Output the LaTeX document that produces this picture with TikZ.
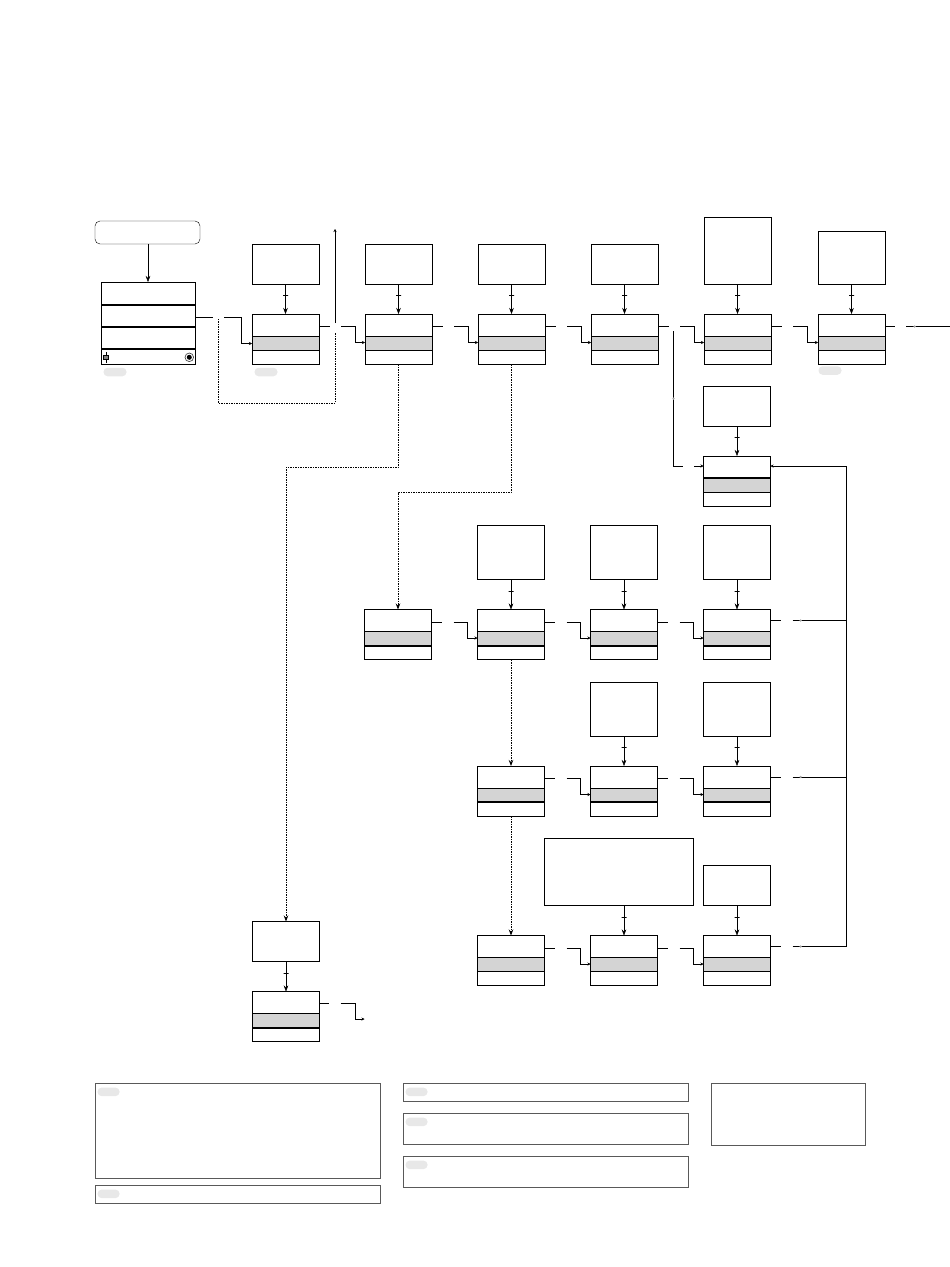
\documentclass[tikz,border=0pt]{standalone}
\usetikzlibrary{arrows.meta,calc,positioning}
\definecolor{band}{gray}{0.83}
\definecolor{tagfill}{gray}{0.91}
\definecolor{frame}{gray}{0.35}
\tikzset{
    line width=1pt,
    box/.style={draw, fill=white, minimum width=67pt, inner sep=0pt, outer sep=0pt},
    stackbox/.style 2 args={box, minimum height=50pt, path picture={
        \fill[band] ([yshift=-22pt]path picture bounding box.north west) rectangle ([yshift=14pt]path picture bounding box.south east);
        \draw[line width=#1] ([yshift=-22pt]path picture bounding box.north west) -- ([yshift=-22pt]path picture bounding box.north east);
        \draw[line width=#2] ([yshift=14pt]path picture bounding box.south west) -- ([yshift=14pt]path picture bounding box.south east);}},
    stack/.style={stackbox={1pt}{1pt}},
    stack low/.style={stackbox={1pt}{2pt}},
    stack high/.style={stackbox={2pt}{1pt}},
    feed/.style={-{Stealth[length=6pt,width=4.5pt]}},
    link/.style={-{Stealth[length=3pt,width=3pt]}},
    trail/.style={line width=.8pt, dash pattern=on 1.5pt off 1pt},
    notch/.style={draw, line width=.8pt, minimum width=5pt, minimum height=0pt, inner sep=0pt},
    nub/.style={circle, fill=gray!70, inner sep=0pt, minimum size=2.5pt},
    tag/.style={fill=tagfill, rounded corners=4pt, minimum width=23pt, minimum height=8.5pt, inner sep=0pt},
    legend/.style={draw=frame, line width=.9pt, inner sep=0pt}
}

\begin{document}
\begin{tikzpicture}[x=1pt, y=-1pt]
    \useasboundingbox (0,0) rectangle (950,1267);

    % start and menu
    \node[box, rounded corners=5pt, minimum width=105pt, minimum height=23pt] (start) at (147.5,232.5) {};
    \node[box, minimum width=94pt, minimum height=82pt] (menu) at (148,323) {};
    \foreach \d in {23,44.7,67.3}
        \draw[line width=2pt] ($(menu.north west)+(0,\d)$) -- ($(menu.north east)+(0,\d)$);
    \draw ($(menu.south west)+(5,-12)$) -- ($(menu.south west)+(5,-1)$);
    \filldraw[line width=.6pt, fill=gray] ($(menu.south west)+(2.5,-9)$) rectangle ($(menu.south west)+(7.5,-5)$);
    \draw[line width=.7pt, gray!60!black] ($(menu.south east)+(-5.7,-6.7)$) circle (4.3pt);
    \fill ($(menu.south east)+(-5.7,-6.7)$) circle (2.5pt);
    \draw[feed] (start.south -| menu.north) -- (menu.north);

    % first row
    \node[stack] (A) at (285.5,339) {};
    \node[stack] (B) [right = 46pt of A] {};
    \node[stack] (C) [right = 46pt of B] {};
    \node[stack] (D) [right = 46pt of C] {};
    \node[stack] (E) [right = 46pt of D] {};
    \node[stack] (G) [right = 47pt of E] {};
    \node[stack high] (F) at (737,481) {};

    % lower rows
    \node[stack low] (H) at (398,634.5) {};
    \node[stack low] (I) [right = 46pt of H] {};
    \node[stack low] (J) [right = 46pt of I] {};
    \node[stack low] (K) [right = 46pt of J] {};
    \node[stack low] (L) at (511,791) {};
    \node[stack low] (M) [right = 46pt of L] {};
    \node[stack low] (N) [right = 46pt of M] {};
    \node[stack] (O) at (511,960.5) {};
    \node[stack] (P) [right = 46pt of O] {};
    \node[stack] (Q) [right = 46pt of P] {};
    \node[stack low] (R) at (286,1016.5) {};

    % boxes feeding each row box
    \node[box, minimum height=40pt] (Atop) [above = 30pt of A] {};
    \node[box, minimum height=40pt] (Btop) [above = 30pt of B] {};
    \node[box, minimum height=40pt] (Ctop) [above = 30pt of C] {};
    \node[box, minimum height=40pt] (Dtop) [above = 30pt of D] {};
    \node[box, minimum height=67pt] (Etop) [above = 30pt of E] {};
    \node[box, minimum height=53pt] (Gtop) [above = 30pt of G] {};
    \node[box, minimum height=40pt] (Ftop) [above = 30pt of F] {};
    \node[box, minimum height=54pt] (Itop) [above = 30pt of I] {};
    \node[box, minimum height=54pt] (Jtop) [above = 30pt of J] {};
    \node[box, minimum height=54pt] (Ktop) [above = 30pt of K] {};
    \node[box, minimum height=54pt] (Mtop) [above = 30pt of M] {};
    \node[box, minimum height=54pt] (Ntop) [above = 30pt of N] {};
    \node[box, minimum width=149pt, minimum height=67pt] (Ptop) [above = 30pt of P, xshift=-5pt] {};
    \node[box, minimum height=40pt] (Qtop) [above = 30pt of Q] {};
    \node[box, minimum height=40pt] (Rtop) [above = 30pt of R] {};

    \foreach \t/\q in {Atop/A,Btop/B,Ctop/C,Dtop/D,Etop/E,Gtop/G,Ftop/F,Itop/I,Jtop/J,Ktop/K,Mtop/M,Ntop/N,Ptop/P,Qtop/Q,Rtop/R}
        \draw[feed] (\t.south -| \q.north) -- node[notch, pos=.38] {} (\q.north);

    % row links, broken where lines cross
    \foreach \p/\q in {A/B,B/C,C/D,D/E,E/G,H/I,I/J,J/K,L/M,M/N,O/P,P/Q} {
        \draw ($(\p.north east)+(0,12.5)$) -- ++(10.5,0);
        \draw[link] ($(\p.north east)+(22,12.5)$) -- ++(14,0) |- ($(\p.north east -| \q.west)+(0,28.5)$);
    }
    \draw ($(menu.north east)+(0,35)$) -- ++(18,0);
    \draw[link] ($(menu.north east)+(29,35)$) -- ++(17,0) |- ($(A.west)+(0,4.5)$);

    % loop round the first box
    \coordinate (up) at ($(A.north east)+(16,-85)$);
    \draw[link] ($(A.north east)+(16,9)$) -- (up);
    \draw[trail] ($(A.north east)+(16,19)$) |- ($(menu.north east)+(23,121)$) -- ($(menu.north east)+(23,36)$);

    % dotted branches
    \draw[trail, feed] (B.south) -- ++(0,103) -| (Rtop.north);
    \draw[trail, feed] (C.south) -- ++(0,128) -| (H.north);
    \draw[trail, feed] (I.south) -- (L.north);
    \draw[trail, feed] (L.south) -- (O.north);

    % branch from D down to F
    \draw ($(D.north east)+(15.5,17)$) -- node[nub] {} ++(0,135) -- ++(9.5,0);
    \draw[link] ($(F.north west)+(-9.5,10)$) -- ($(F.north west)+(0,10)$);

    % return bus on the right
    \coordinate (bus) at ($(F.north east)+(76,10)$);
    \draw[link] (bus) -- ($(F.north east)+(0,10)$);
    \draw (bus) -- ($(Q.north east)+(76,11)$);
    \foreach \n in {K,N,Q} {
        \draw ($(\n.north east)+(0,11)$) -- ++(10.5,0);
        \draw ($(\n.north east)+(22,11)$) -- node[nub, pos=.15] {} ++(54,0);
    }

    % exits
    \coordinate (gout) at ($(G.north east)+(66,12.5)$);
    \draw ($(G.north east)+(0,12.5)$) -- ++(9.5,0);
    \draw ($(G.north east)+(21,12.5)$) -- node[nub, pos=.19] {} (gout);
    \coordinate (rout) at ($(R.north east)+(45,27.5)$);
    \draw ($(R.north east)+(0,12)$) -- ++(9.5,0);
    \draw[link] ($(R.north east)+(21,12)$) -- ++(14.5,0) |- (rout);

    % tags
    \node[tag] at ($(menu.south west)+(14,8)$) {};
    \node[tag] at ($(A.south west)+(14,8)$) {};
    \node[tag] at ($(G.south west)+(12,6.5)$) {};

    % legend
    \node[legend, minimum width=285pt, minimum height=95pt] (key1) at (238,1130.8) {};
    \node[legend, minimum width=285pt, minimum height=18pt] (key2) at (238,1194.3) {};
    \node[legend, minimum width=285pt, minimum height=18.4pt] (key3) at (546,1092.5) {};
    \node[legend, minimum width=285pt, minimum height=31pt] (key4) at (546,1128.8) {};
    \node[legend, minimum width=285pt, minimum height=31pt] (key5) at (546,1171.8) {};
    \node[legend, minimum width=154pt, minimum height=62pt] (key6) at (788.7,1114.3) {};
    \foreach \k in {key1,key2,key3,key4,key5}
        \node[tag, minimum width=22pt] at ($(\k.north west)+(13.5,9)$) {};

\end{tikzpicture}
\end{document}
